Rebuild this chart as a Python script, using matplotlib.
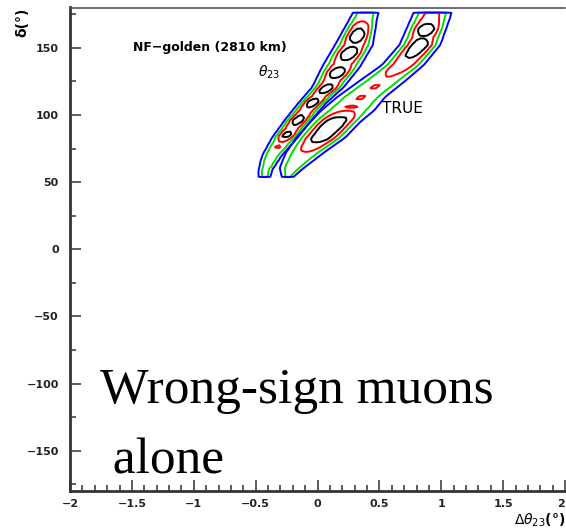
import numpy as np
import matplotlib
matplotlib.use("Agg")
import matplotlib.pyplot as plt
from matplotlib.ticker import FixedLocator, MultipleLocator

# allowed regions: two bands in the (dtheta23, delta) plane
# centre line of each band: delta (deg), centre dtheta23, half-width of the 99% region
left_y = [52.5, 58.5, 69.75, 83.25, 96.0, 108.75, 120.75, 135.75, 152.25, 171.0, 176.25]
left_x = [-0.43, -0.424, -0.368, -0.263, -0.158, -0.044, 0.085, 0.19, 0.295, 0.368, 0.39]
left_hw = [0.05, 0.057, 0.081, 0.105, 0.109, 0.113, 0.129, 0.154, 0.154, 0.113, 0.105]
# minimum chi2 along the band
left_m_y = [52.5, 70, 74, 76.5, 79, 82, 84.75, 90, 96, 102.75, 109.5, 114, 119.25,
            125.25, 131.25, 138, 145.5, 152.25, 159, 166, 170, 176.25]
left_m = [4.0, 3.0, 2.6, 2.0, 2.6, 1.6, 0.5, 1.4, 0.4, 1.4, 0.4, 1.4, 0.4,
          1.4, 0.3, 1.4, 0.3, 1.2, 0.3, 1.2, 2.4, 3.0]

right_y = [52.5, 60.75, 72.0, 83.25, 94.5, 103.5, 113.25, 124.5, 137.25, 152.25, 171.0, 176.25]
right_x = [-0.25, -0.206, -0.101, 0.028, 0.141, 0.246, 0.352, 0.513, 0.691, 0.828, 0.909, 0.93]
right_hw = [0.04, 0.101, 0.154, 0.198, 0.202, 0.214, 0.194, 0.186, 0.17, 0.166, 0.158, 0.154]
right_m_y = [52.5, 65, 72, 76, 82, 91.5, 97, 101, 104, 106, 109, 113, 117, 121, 125,
             130, 134, 140, 146, 151.4, 158, 163.7, 169, 172, 176.25]
right_m = [4.0, 3.0, 2.4, 1.6, 0.6, 0.2, 0.6, 1.8, 2.5, 2.2, 2.5, 2.2, 2.5, 2.2, 2.5,
           2.2, 1.6, 1.2, 0.7, 0.4, 1.1, 0.3, 1.2, 1.6, 2.0]

levels = [1.0, 2.3, 4.61, 9.21]
level_colors = ["black", "red", "#00e000", "blue"]

x_ticks = [-2, -1.5, -1, -0.5, 0, 0.5, 1, 1.5, 2]
x_tick_labels = ["\u22122", "\u22121.5", "\u22121", "\u22120.5", "0", "0.5", "1", "1.5", "2"]
y_ticks = [-150, -100, -50, 0, 50, 100, 150]
y_tick_labels = ["\u2212150", "\u2212100", "\u221250", "0", "50", "100", "150"]

# coarse histogram-like grid for the chi2 surface
gx = np.arange(-1.0, 1.6, 0.03)
gy = np.arange(40.0, 180.0, 2.0)
X, Y = np.meshgrid(gx, gy)


def band_chi2(yn, xn, hwn, my, mv):
    xc = np.interp(gy, yn, xn)
    hw = np.interp(gy, yn, hwn)
    m = np.interp(gy, my, mv)
    d = np.abs(X - xc[:, None]) / hw[:, None]
    chi = m[:, None] + (levels[-1] - m[:, None]) * d ** 3
    outside = (gy < yn[0]) | (gy > yn[-1])
    chi[outside, :] = 50.0
    return chi


fig = plt.figure(figsize=(5.66, 5.32), dpi=100)
ax = fig.add_axes([70 / 566, 41 / 532, 495 / 566, 483.5 / 532])

for args in [(left_y, left_x, left_hw, left_m_y, left_m),
             (right_y, right_x, right_hw, right_m_y, right_m)]:
    ax.contour(X, Y, band_chi2(*args), levels=levels, colors=level_colors,
               linewidths=1.4)

ax.set_xlim(-2, 2)
ax.set_ylim(-180, 180)

ax.xaxis.set_major_locator(FixedLocator(x_ticks))
ax.set_xticklabels(x_tick_labels)
ax.xaxis.set_minor_locator(MultipleLocator(0.1))
ax.yaxis.set_major_locator(FixedLocator(y_ticks))
ax.set_yticklabels(y_tick_labels)
ax.yaxis.set_minor_locator(MultipleLocator(25))

ax.tick_params(which="both", direction="in", color="#333333", width=1.1,
               top=False, right=False)
ax.tick_params(which="major", length=8)
ax.tick_params(which="minor", length=4.5)
ax.tick_params(axis="x", pad=6)
ax.tick_params(axis="y", pad=8)
for lab in ax.get_xticklabels() + ax.get_yticklabels():
    lab.set_fontsize(8)
    lab.set_fontweight("bold")
    lab.set_color("#222222")
# last label sits on the figure edge
ax.get_xticklabels()[-1].set_horizontalalignment("right")

for side in ["left", "bottom"]:
    ax.spines[side].set_linewidth(2.0)
    ax.spines[side].set_color("#333333")
ax.spines["top"].set_linewidth(1.2)
ax.spines["top"].set_color("#555555")
ax.spines["right"].set_visible(False)

ax.text(-1.49, 150, "NF\u2212golden (2810 km)", fontsize=9, fontweight="bold",
        ha="left", va="center")
ax.text(-0.48, 132, r"$\theta_{23}$", fontsize=10, ha="left", va="center")
ax.text(0.52, 104.5, "TRUE", fontsize=11, ha="left", va="center")

serif = dict(family="Liberation Serif", fontsize=37, ha="left", va="baseline")
ax.text(0.0606, 0.182, "Wrong-sign muons", transform=ax.transAxes, **serif)
ax.text(0.0606, 0.0372, " alone", transform=ax.transAxes, **serif)

fig.text(22 / 566, 1 - 22 / 532, "\u03b4(\u00b0)", rotation=90, fontsize=10,
         fontweight="bold", ha="center", va="center")
fig.text(0.998, 1 - 520 / 532, r"$\Delta\theta_{23}$" + "(\u00b0)", fontsize=10,
         fontweight="bold", ha="right", va="center")

fig.savefig("out.png", dpi=100)
